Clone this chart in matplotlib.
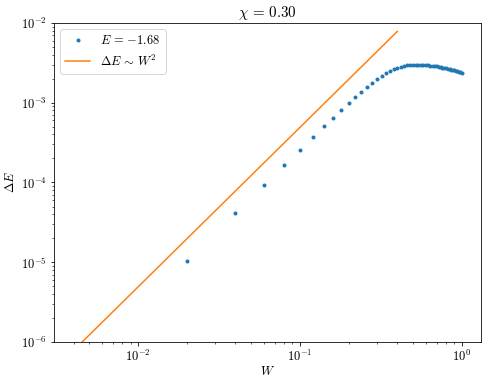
import numpy as np
import matplotlib
matplotlib.use('Agg')
import matplotlib.pyplot as plt

plt.rcParams['mathtext.fontset'] = 'cm'
plt.rcParams['font.family'] = 'serif'
plt.rcParams['font.serif'] = ['cmr10', 'DejaVu Serif']
plt.rcParams['axes.formatter.use_mathtext'] = True
plt.rcParams['font.size'] = 12.5

# data
W = [0.02, 0.04, 0.06, 0.08, 0.10, 0.12, 0.14, 0.16, 0.18, 0.20,
     0.22, 0.24, 0.26, 0.28, 0.30, 0.32, 0.34, 0.36, 0.38, 0.40,
     0.42, 0.44, 0.46, 0.48, 0.50, 0.52, 0.54, 0.56, 0.58, 0.60,
     0.62, 0.64, 0.66, 0.68, 0.70, 0.72, 0.74, 0.76, 0.78, 0.80,
     0.82, 0.84, 0.86, 0.88, 0.90, 0.92, 0.94, 0.96, 0.98, 1.00]
dE = [1.05e-5, 4.2e-5, 9.4e-5, 1.66e-4, 2.58e-4, 3.72e-4, 5.07e-4, 6.5e-4, 8.1e-4, 9.8e-4,
      1.17e-3, 1.37e-3, 1.57e-3, 1.78e-3, 1.98e-3, 2.15e-3, 2.33e-3, 2.49e-3, 2.62e-3, 2.74e-3,
      2.83e-3, 2.90e-3, 2.95e-3, 2.98e-3, 3.00e-3, 3.01e-3, 3.01e-3, 3.00e-3, 2.99e-3, 2.97e-3,
      2.95e-3, 2.93e-3, 2.91e-3, 2.88e-3, 2.85e-3, 2.82e-3, 2.79e-3, 2.76e-3, 2.73e-3, 2.70e-3,
      2.67e-3, 2.64e-3, 2.61e-3, 2.58e-3, 2.55e-3, 2.52e-3, 2.49e-3, 2.46e-3, 2.43e-3, 2.38e-3]

# W^2 guide line
W_fit = [0.004, 0.4]
dE_fit = [7.84e-7, 7.84e-3]

fig, ax = plt.subplots(figsize=(488 / 72, 383 / 72), dpi=72)
fig.subplots_adjust(left=0.111, right=0.986, top=0.94, bottom=0.107)

ax.plot(W, dE, '.', markersize=6, label=r'$E \,=\, {-1.68}$')
ax.plot(W_fit, dE_fit, '-', label=r'$\Delta E \,\sim\, W^2$')
ax.set_xscale('log')
ax.set_yscale('log')
ax.set_ylim(1e-6, 1e-2)
ax.set_xlabel(r'$W$', labelpad=1)
ax.set_ylabel(r'$\Delta E$')
ax.set_title(r'$\chi \,=\, 0.30$')
ax.legend(loc='upper left')

plt.savefig('out.png', dpi=72)
